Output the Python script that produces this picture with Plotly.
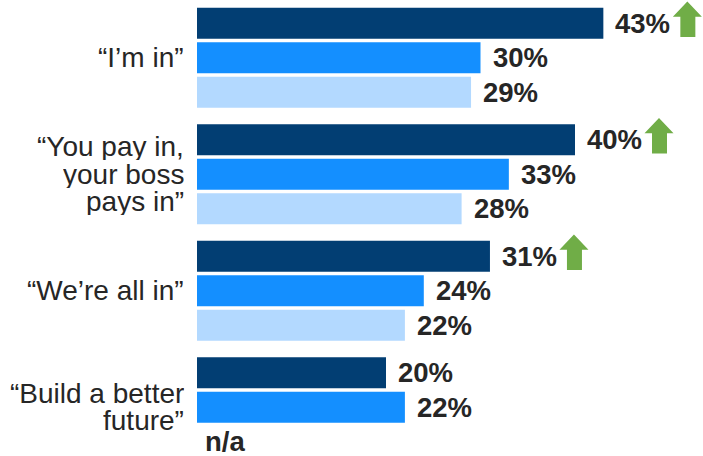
import plotly.graph_objects as go

# Campaign slogans and share of respondents (%) across three survey waves
categories = ["“I’m in”", "“You pay in,<br>your boss<br>pays in”", "“We’re all in”", "“Build a better<br>future”"]
wave_latest = [43, 40, 31, 20]
wave_previous = [30, 33, 24, 22]
wave_earliest = [29, 28, 22, None]
significant_rise = [True, True, True, False]
missing_label = "n/a"

series = [wave_latest, wave_previous, wave_earliest]
series_names = ["Latest wave", "Previous wave", "Earliest wave"]
colors = ["#023E73", "#148FFF", "#B3D9FF"]

GROUP_PX = 116.5      # pixel height of one category band
SLOT = 34.5 / GROUP_PX  # spacing between bars in a group (category units)
BAR_W = 31 / GROUP_PX
PX_PER_UNIT = 9.45
LEFT = 197
W, H = 703, 456

TEXT = "#262626"
FONT = "Liberation Sans, Arial, sans-serif"


def ypos(i, j):
    return i + (j - 1) * SLOT


fig = go.Figure()
for j, (vals, name, col) in enumerate(zip(series, series_names, colors)):
    xs, ys = [], []
    for i, v in enumerate(vals):
        if v is not None:
            xs.append(v)
            ys.append(ypos(i, j))
    fig.add_trace(go.Bar(
        x=xs, y=ys, orientation="h", width=BAR_W, name=name,
        marker=dict(color=col, line=dict(width=0)),
        hoverinfo="skip", showlegend=False,
    ))

annotations = []
shapes = []

# value labels next to each bar
for j, vals in enumerate(series):
    for i, v in enumerate(vals):
        if v is None:
            annotations.append(dict(
                x=0, y=ypos(i, j), xref="x", yref="y", text=missing_label,
                showarrow=False, xanchor="left", yanchor="middle", xshift=6,
                font=dict(family=FONT, size=27.5, color=TEXT, weight="bold"),
            ))
            continue
        annotations.append(dict(
            x=v, y=ypos(i, j), xref="x", yref="y", text=f"{v}%",
            showarrow=False, xanchor="left", yanchor="middle", xshift=10,
            font=dict(family=FONT, size=27.5, color=TEXT, weight="bold"),
        ))

# green up-arrows marking a significant rise on the latest wave
arrow_path = ("M 77,-13.8 L 77,6.5 L 69.5,6.5 L 84,21.8 "
              "L 98.5,6.5 L 92,6.5 L 92,-13.8 Z")
for i, flag in enumerate(significant_rise):
    if flag:
        shapes.append(dict(
            type="path", xref="x", yref="y",
            xsizemode="pixel", ysizemode="pixel",
            xanchor=wave_latest[i], yanchor=ypos(i, 0),
            path=arrow_path, fillcolor="#70AD47", line=dict(width=0),
        ))

# category labels, right-aligned against the bars, tight line spacing
LINE_PX = 27.5
for i, cat in enumerate(categories):
    lines = cat.split("<br>")
    n = len(lines)
    for k, line in enumerate(lines):
        offset = (k - (n - 1) / 2) * LINE_PX
        annotations.append(dict(
            x=0, y=i, xref="paper", yref="y", text=line,
            showarrow=False, xanchor="right", yanchor="middle",
            xshift=-12, yshift=-offset, height=27, borderpad=0,
            font=dict(family=FONT, size=28, color=TEXT),
        ))

top_val = -57.7 / GROUP_PX
bottom_val = top_val + H / GROUP_PX

fig.update_layout(
    width=W, height=H,
    margin=dict(l=LEFT, r=0, t=0, b=0),
    paper_bgcolor="white", plot_bgcolor="white",
    barmode="overlay",
    xaxis=dict(range=[0, (W - LEFT) / PX_PER_UNIT], visible=False, fixedrange=True),
    yaxis=dict(range=[bottom_val, top_val], visible=False, fixedrange=True),
    annotations=annotations,
    shapes=shapes,
)

fig.write_html("out.html", config={"displayModeBar": False})
